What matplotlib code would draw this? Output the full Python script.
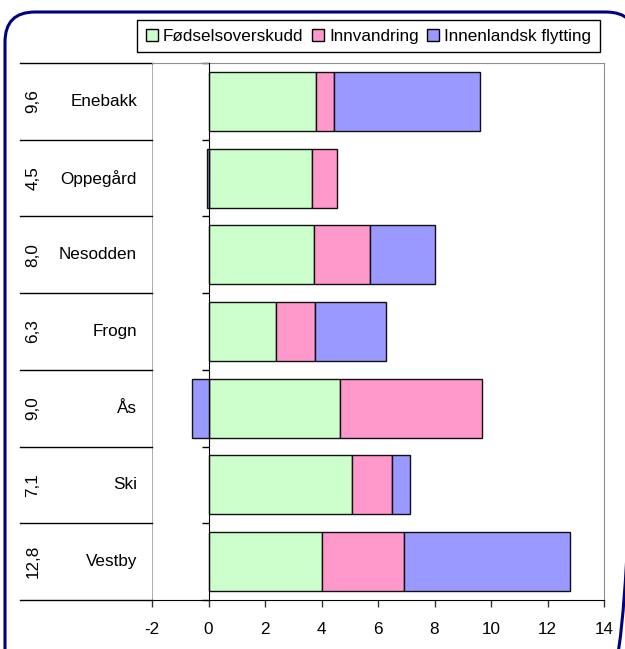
import matplotlib
matplotlib.use("Agg")
import matplotlib.pyplot as plt
import numpy as np
from matplotlib.patches import FancyBboxPatch, Patch

plt.rcParams['font.family'] = ['Liberation Sans', 'DejaVu Sans']
plt.rcParams['axes.unicode_minus'] = False

categories = ["Enebakk", "Oppegård", "Nesodden", "Frogn", "Ås", "Ski", "Vestby"]
totals = ["9,6", "4,5", "8,0", "6,3", "9,0", "7,1", "12,8"]
series_names = ["Fødselsoverskudd", "Innvandring", "Innenlandsk flytting"]
fodsel = [3.8, 3.65, 3.73, 2.38, 4.67, 5.08, 4.0]
innvandring = [0.65, 0.9, 2.0, 1.4, 5.0, 1.41, 2.91]
innenlandsk = [5.17, -0.05, 2.29, 2.51, -0.6, 0.65, 5.9]
colors = ["#CCFFCC", "#FF99CC", "#9999FF"]
xticks = [-2, 0, 2, 4, 6, 8, 10, 12, 14]

W, H = 625, 649
FS = 12.3
fig = plt.figure(figsize=(W / 100, H / 100), dpi=100)

# background axes in pixel units (y down) for the rounded outer frame
bg = fig.add_axes([0, 0, 1, 1], zorder=-1)
bg.set_xlim(0, W)
bg.set_ylim(H, 0)
bg.axis('off')
frame = FancyBboxPatch((5, 12), 631, 675,
                       boxstyle="round,pad=0,rounding_size=30",
                       facecolor="none", edgecolor="#000080", linewidth=2.2,
                       clip_on=True)
bg.add_patch(frame)

ax_l, ax_r, ax_t, ax_b = 152, 604, 63, 600
ax = fig.add_axes([ax_l / W, 1 - ax_b / H, (ax_r - ax_l) / W, (ax_b - ax_t) / H])
ax.set_facecolor("none")

n = len(categories)
y = np.arange(n)[::-1]
series = [fodsel, innvandring, innenlandsk]
pos_left = np.zeros(n)
neg_left = np.zeros(n)
for vals, col, name in zip(series, colors, series_names):
    vals = np.array(vals)
    left = np.where(vals >= 0, pos_left, neg_left)
    ax.barh(y, vals, left=left, height=0.77, color=col, edgecolor="#111111",
            linewidth=1.0, label=name, zorder=3)
    pos_left = pos_left + np.where(vals >= 0, vals, 0)
    neg_left = neg_left + np.where(vals < 0, vals, 0)

ax.set_xlim(-2, 14)
ax.set_ylim(-0.5, n - 0.5)
ax.set_xticks(xticks)
ax.set_xticklabels([str(v) for v in xticks], fontsize=FS)
ax.tick_params(axis='x', direction='out', length=5, width=1, color='#333333', pad=11)

# y axis spine at zero with ticks at category boundaries
ax.spines['left'].set_position(('data', 0))
ax.spines['left'].set_color('black')
ax.spines['left'].set_zorder(4)
ax.set_yticks(np.arange(-0.5, n, 1.0))
ax.set_yticklabels([])
ax.tick_params(axis='y', direction='out', length=5, width=1, color='black')
for s in ['top', 'right']:
    ax.spines[s].set_color('#909090')
ax.spines['bottom'].set_color('black')
ax.axvline(-2, color='#a0a0a0', linewidth=1.2, zorder=1)

# table on left
x0 = (20 - ax_l) / (ax_r - ax_l)
for b in np.arange(-0.5, n, 1.0):
    ax.plot([x0, 0], [b, b], transform=ax.get_yaxis_transform(),
            color='black', linewidth=1.0, clip_on=False)
xt = (33 - ax_l) / (ax_r - ax_l)
xn = (137 - ax_l) / (ax_r - ax_l)
for yi, cat, tot in zip(y, categories, totals):
    ax.text(xt, yi, tot, rotation=90, ha='center', va='center', fontsize=FS,
            transform=ax.get_yaxis_transform())
    ax.text(xn, yi, cat, ha='right', va='center', fontsize=FS,
            transform=ax.get_yaxis_transform())

handles = [Patch(facecolor=c, edgecolor='black', linewidth=1.0) for c in colors]
leg = fig.legend(handles, series_names, loc='upper right',
                 bbox_to_anchor=(600 / W, 1 - 20 / H), ncol=3, fontsize=FS,
                 frameon=True, fancybox=False, edgecolor='black', framealpha=1,
                 handlelength=0.7, handleheight=0.7, handletextpad=0.3,
                 columnspacing=0.5, borderpad=0.5, borderaxespad=0)
leg.get_frame().set_linewidth(1.0)

fig.savefig("out.png", dpi=100)
